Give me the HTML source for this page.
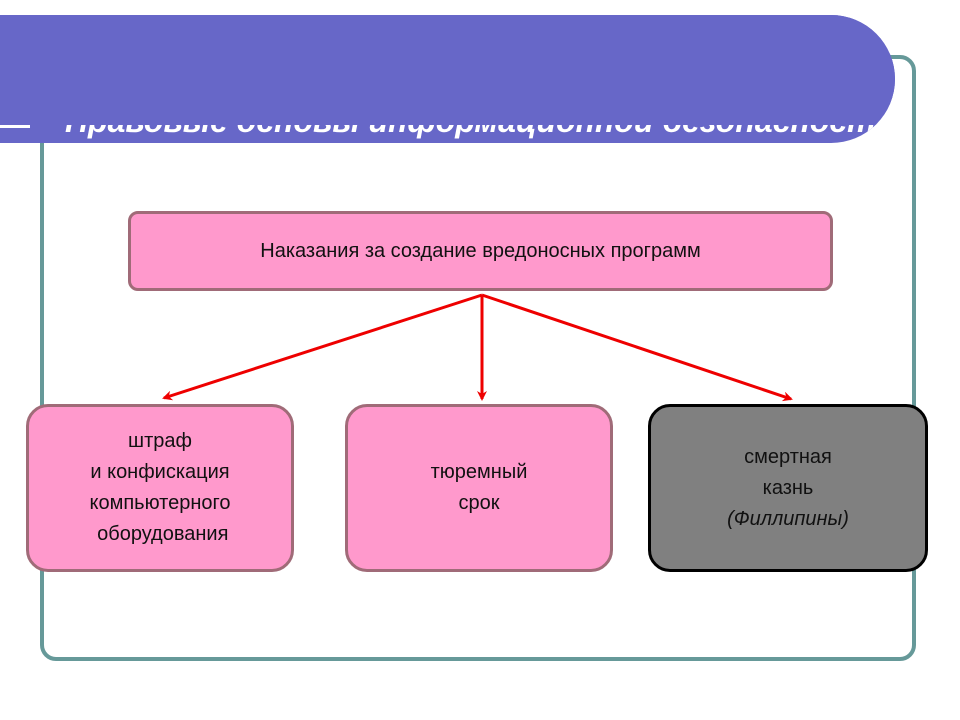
<!DOCTYPE html>
<html><head><meta charset="utf-8"><style>
body{margin:0;width:960px;height:720px;background:#fff;position:relative;overflow:hidden;font-family:"Liberation Sans",sans-serif}
.frame{position:absolute;left:40px;top:55px;width:868px;height:598px;border:4px solid #669999;border-radius:16px}
.bar{position:absolute;left:-60px;top:15px;width:955px;height:128px;background:#6767c8;border-radius:0 64px 64px 0;overflow:hidden}
.ttl{position:absolute;left:125px;top:88px;color:#fff;font:italic bold 32px "Liberation Sans",sans-serif;white-space:nowrap}
.cover{position:absolute;left:0;top:0;width:100%;height:110px;background:#6767c8}
.wl{position:absolute;left:0;top:125px;width:30px;height:3px;background:#fff}
.box{position:absolute;background:#ff99cc;border:3px solid #a06b78;border-radius:16px;display:flex;align-items:center;justify-content:center;text-align:center;font-size:20px;line-height:31px;color:#111;box-sizing:border-box}
</style></head><body>
<div class="frame"></div>
<div class="bar"><div class="ttl">Правовые основы информационной безопасности</div><div class="cover"></div></div>
<div class="wl"></div>
<div class="box" style="left:128px;top:211px;width:705px;height:80px;border-radius:10px"><div>Наказания за создание вредоносных программ</div></div>
<div class="box" style="left:26px;top:404px;width:268px;height:168px;border-radius:22px"><div>штраф<br>и конфискация<br>компьютерного<br>&nbsp;оборудования</div></div>
<div class="box" style="left:345px;top:404px;width:268px;height:168px;border-radius:22px"><div>тюремный<br>срок</div></div>
<div class="box" style="left:648px;top:404px;width:280px;height:168px;border-radius:22px;background:#808080;border-color:#000"><div>смертная<br>казнь<br><i>(Филлипины)</i></div></div>
<svg width="960" height="720" style="position:absolute;left:0;top:0">
<defs><marker id="a" markerWidth="10" markerHeight="10" refX="8" refY="5" orient="auto" markerUnits="userSpaceOnUse"><path d="M0,0 L10,5 L0,10 L3,5Z" fill="#ee0000"/></marker></defs>
<g stroke="#ee0000" stroke-width="3" fill="none">
<line x1="482" y1="295" x2="164" y2="398" marker-end="url(#a)"/>
<line x1="482" y1="295" x2="482" y2="399" marker-end="url(#a)"/>
<line x1="482" y1="295" x2="791" y2="399" marker-end="url(#a)"/>
</g></svg>
</body></html>
